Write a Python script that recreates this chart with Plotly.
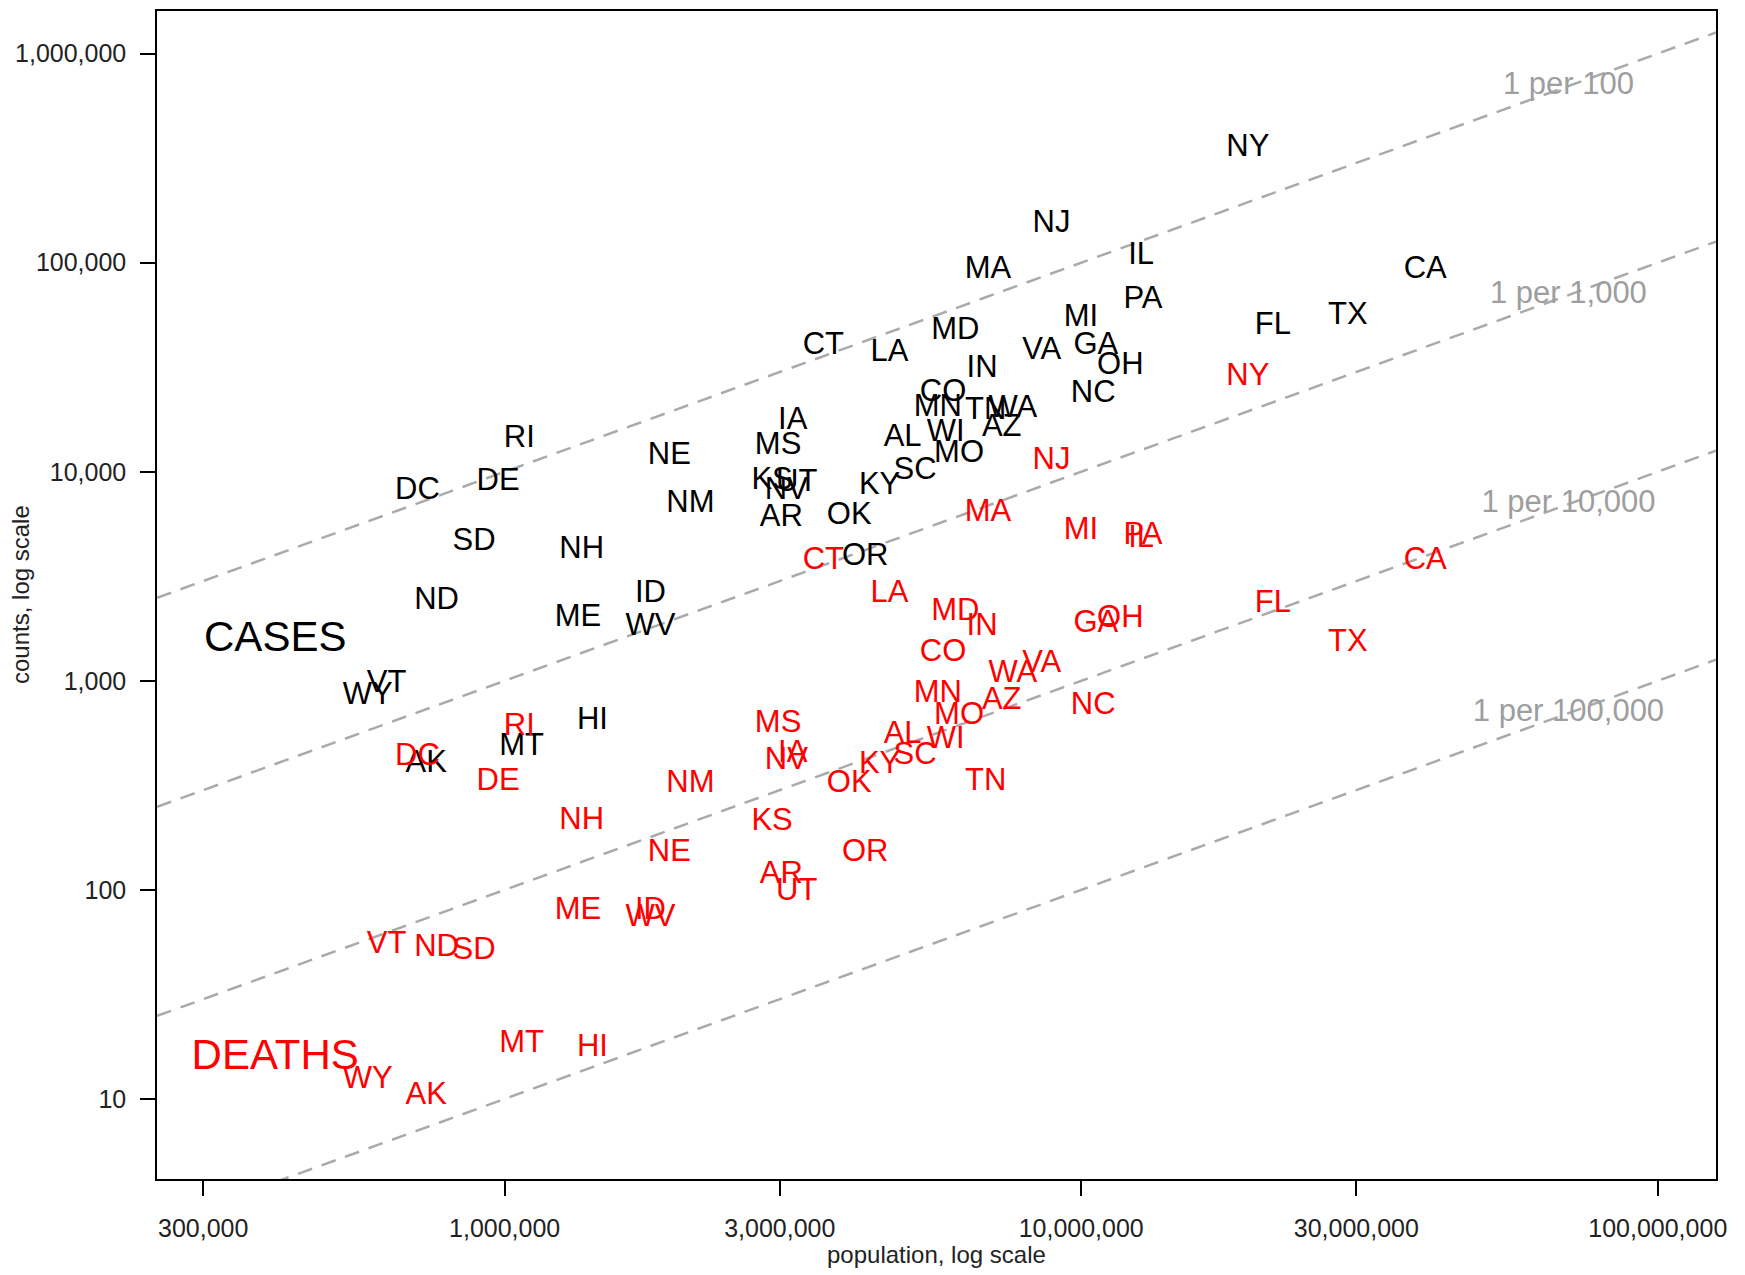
import plotly.graph_objects as go

states = ["AK","AL","AR","AZ","CA","CO","CT","DC","DE","FL","GA","HI","IA","ID","IL","IN","KS",
          "KY","LA","MA","MD","ME","MI","MN","MO","MS","MT","NC","ND","NE","NH","NJ","NM","NV",
          "NY","OH","OK","OR","PA","RI","SC","SD","TN","TX","UT","VA","VT","WA","WI","WV","WY"]

population = [731000, 4900000, 3020000, 7280000, 39500000, 5760000, 3570000, 706000, 974000,
              21500000, 10600000, 1420000, 3160000, 1790000, 12700000, 6730000, 2910000,
              4470000, 4650000, 6890000, 6050000, 1340000, 9990000, 5640000, 6140000, 2980000,
              1070000, 10490000, 762000, 1930000, 1360000, 8880000, 2100000, 3080000,
              19450000, 11690000, 3960000, 4220000, 12800000, 1060000, 5150000, 885000,
              6830000, 29000000, 3210000, 8540000, 624000, 7610000, 5820000, 1790000, 579000]

cases = [400, 14500, 6000, 16200, 92500, 23800, 39700, 8100, 8950, 49500, 39700, 643, 17400,
         2600, 107000, 30800, 9000, 8500, 36900, 92000, 46900, 2000, 54200, 20200, 12100,
         13200, 480, 23400, 2410, 11900, 4200, 152000, 7000, 8070, 352000, 32000, 6100, 3880,
         66400, 14300, 10050, 4600, 19500, 55300, 8850, 37600, 964, 19900, 15300, 1800, 847]

deaths = [10.3, 549, 117, 802, 3740, 1360, 3740, 430, 327, 2320, 1870, 17.4, 446, 79, 4740,
          1800, 210, 393, 2590, 6350, 2120, 79, 5200, 863, 680, 621, 18.2, 758, 52.8, 150, 214,
          11200, 321, 414, 28300, 1970, 321, 150, 4920, 598, 435, 50.9, 328, 1520, 97.5, 1200,
          54.2, 1070, 522, 72.8, 12.3]

per_ratios = [100, 1000, 10000, 100000]
per_labels = ["1 per 100", "1 per 1,000", "1 per 10,000", "1 per 100,000"]
per_label_x = 7e7

group_labels = ["CASES", "DEATHS"]
group_label_x = [4e5, 4e5]
group_label_y = [1560, 15.6]
group_colors = ["black", "red"]

x_tickvals = [3e5, 1e6, 3e6, 1e7, 3e7, 1e8]
x_ticktext = ["300,000", "1,000,000", "3,000,000", "10,000,000", "30,000,000", "100,000,000"]
y_tickvals = [10, 100, 1000, 10000, 100000, 1000000]
y_ticktext = ["10", "100", "1,000", "10,000", "100,000", "1,000,000"]

x_range_log = [5.397, 8.101]
y_range_log = [0.617, 6.204]

FONT = "Arial, Liberation Sans, sans-serif"

fig = go.Figure()

xl = [10 ** x_range_log[0], 10 ** x_range_log[1]]
for r in per_ratios:
    fig.add_trace(go.Scatter(
        x=xl, y=[v / r for v in xl], mode="lines",
        line=dict(color="#aaaaaa", width=2.5, dash="15px,10px"),
        hoverinfo="skip", showlegend=False))

fig.add_trace(go.Scatter(
    x=[per_label_x] * len(per_ratios), y=[per_label_x / r for r in per_ratios],
    mode="text", text=per_labels, textposition="middle center",
    textfont=dict(family=FONT, size=31, color="#9e9e9e"), showlegend=False))

fig.add_trace(go.Scatter(
    x=population, y=cases, mode="text", text=states, textposition="middle center",
    textfont=dict(family=FONT, size=31, color="black"), showlegend=False))

fig.add_trace(go.Scatter(
    x=population, y=deaths, mode="text", text=states, textposition="middle center",
    textfont=dict(family=FONT, size=31, color="red"), showlegend=False))

fig.add_trace(go.Scatter(
    x=group_label_x, y=group_label_y, mode="text", text=group_labels,
    textposition="middle center",
    textfont=dict(family=FONT, size=42, color=group_colors), showlegend=False))

axis_common = dict(
    type="log", showgrid=False, zeroline=False, showline=True, mirror=True,
    linecolor="black", linewidth=1.5, ticks="outside", ticklen=15, tickwidth=1.5,
    tickcolor="black", tickfont=dict(family=FONT, size=25, color="#222222"))

fig.update_xaxes(range=x_range_log, tickvals=x_tickvals, ticktext=x_ticktext,
                 ticklabelstandoff=11, **axis_common)
fig.update_yaxes(range=y_range_log, tickvals=y_tickvals, ticktext=y_ticktext,
                 ticklabelstandoff=9, **axis_common)

fig.update_layout(
    width=1737, height=1267,
    margin=dict(l=149, r=29, t=1, b=96),
    paper_bgcolor="white", plot_bgcolor="white",
    showlegend=False,
    annotations=[
        dict(text="population, log scale", x=0.5, y=0, xref="paper", yref="paper",
             xanchor="center", yanchor="middle", yshift=-75, showarrow=False,
             font=dict(family=FONT, size=24, color="#222222")),
        dict(text="counts, log scale", x=0, y=0.5, xref="paper", yref="paper",
             xanchor="center", yanchor="middle", xshift=-137, textangle=-90,
             showarrow=False, font=dict(family=FONT, size=24, color="#222222")),
    ],
)

fig.write_html("out.html")
